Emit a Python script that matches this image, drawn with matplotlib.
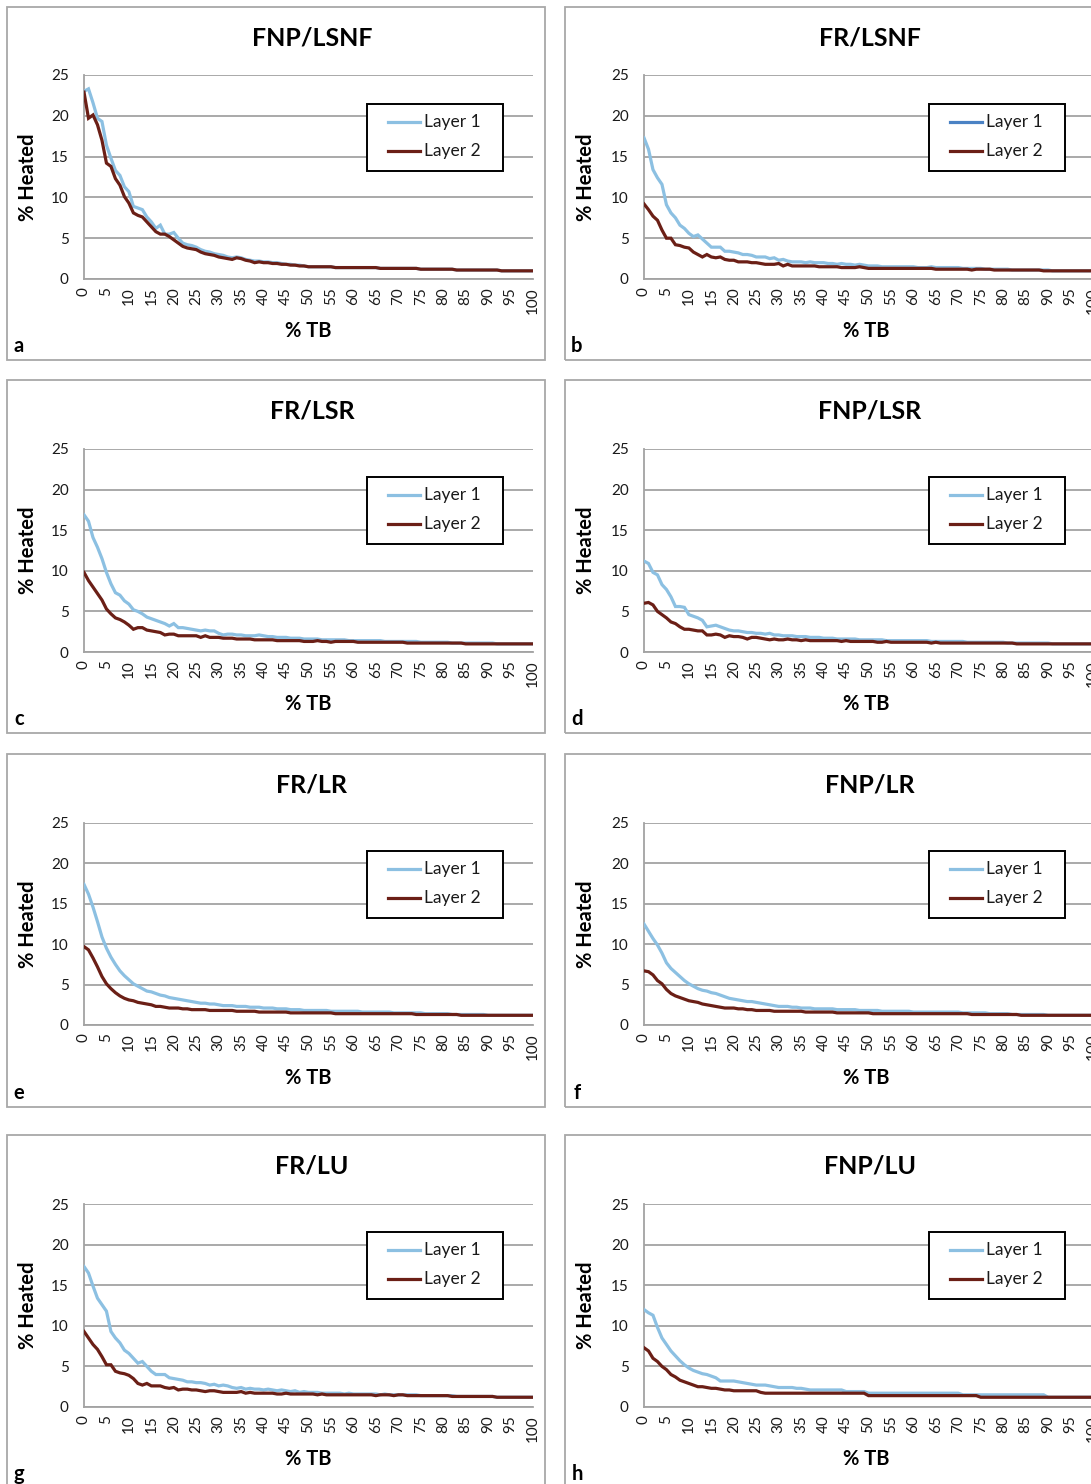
import matplotlib
matplotlib.use("Agg")
import matplotlib.pyplot as plt
from matplotlib.patches import Rectangle
from matplotlib.lines import Line2D

plt.rcParams["font.family"] = ["Lato", "DejaVu Sans"]

# ---------------------------------------------------------------- data
tb = list(range(0, 101))
x_ticks = list(range(0, 101, 5))
y_ticks = [0, 5, 10, 15, 20, 25]
titles = ["FNP/LSNF", "FR/LSNF", "FR/LSR", "FNP/LSR", "FR/LR", "FNP/LR", "FR/LU", "FNP/LU"]
letters = ["a", "b", "c", "d", "e", "f", "g", "h"]
series_names = ["Layer 1", "Layer 2"]

a_layer1 = [23.0, 23.3, 21.6, 19.7, 19.3, 16.4, 14.8, 13.3, 12.7, 11.3,
            10.7, 8.9, 8.7, 8.5, 7.6, 7.0, 6.2, 6.6, 5.5, 5.5,
            5.7, 5.0, 4.4, 4.2, 4.1, 3.9, 3.6, 3.4, 3.3, 3.1,
            3.0, 2.9, 2.7, 2.6, 2.7, 2.6, 2.4, 2.3, 2.2, 2.2,
            2.1, 2.1, 2.0, 2.0, 1.9, 1.8, 1.8, 1.7, 1.7, 1.6,
            1.5, 1.5, 1.5, 1.5, 1.5, 1.5, 1.4, 1.4, 1.4, 1.4,
            1.4, 1.4, 1.4, 1.4, 1.4, 1.4, 1.3, 1.3, 1.3, 1.3,
            1.3, 1.3, 1.3, 1.3, 1.3, 1.2, 1.2, 1.2, 1.2, 1.2,
            1.2, 1.2, 1.2, 1.1, 1.1, 1.1, 1.1, 1.1, 1.1, 1.1,
            1.1, 1.1, 1.1, 1.0, 1.0, 1.0, 1.0, 1.0, 1.0, 1.0,
            1.0]
a_layer2 = [22.9, 19.7, 20.1, 18.9, 17.0, 14.2, 13.8, 12.3, 11.5, 10.1,
            9.3, 8.1, 7.8, 7.6, 7.0, 6.4, 5.8, 5.5, 5.5, 5.2,
            4.8, 4.4, 4.0, 3.8, 3.7, 3.6, 3.3, 3.1, 3.0, 2.9,
            2.7, 2.6, 2.5, 2.4, 2.6, 2.5, 2.3, 2.2, 2.0, 2.1,
            2.0, 2.0, 1.9, 1.9, 1.8, 1.8, 1.7, 1.7, 1.6, 1.6,
            1.5, 1.5, 1.5, 1.5, 1.5, 1.5, 1.4, 1.4, 1.4, 1.4,
            1.4, 1.4, 1.4, 1.4, 1.4, 1.4, 1.3, 1.3, 1.3, 1.3,
            1.3, 1.3, 1.3, 1.3, 1.3, 1.2, 1.2, 1.2, 1.2, 1.2,
            1.2, 1.2, 1.2, 1.1, 1.1, 1.1, 1.1, 1.1, 1.1, 1.1,
            1.1, 1.1, 1.1, 1.0, 1.0, 1.0, 1.0, 1.0, 1.0, 1.0,
            1.0]

b_layer1 = [17.3, 15.9, 13.4, 12.4, 11.6, 9.1, 8.1, 7.5, 6.6, 6.2,
            5.6, 5.2, 5.4, 4.9, 4.4, 3.9, 3.9, 3.9, 3.4, 3.4,
            3.3, 3.2, 3.0, 3.0, 2.9, 2.7, 2.7, 2.7, 2.5, 2.6,
            2.3, 2.4, 2.2, 2.1, 2.1, 2.1, 2.0, 2.1, 2.0, 2.0,
            2.0, 1.9, 1.9, 1.8, 1.9, 1.8, 1.8, 1.7, 1.8, 1.7,
            1.6, 1.6, 1.6, 1.5, 1.5, 1.5, 1.5, 1.5, 1.5, 1.5,
            1.5, 1.4, 1.4, 1.4, 1.5, 1.4, 1.4, 1.4, 1.4, 1.4,
            1.4, 1.3, 1.3, 1.3, 1.3, 1.3, 1.2, 1.2, 1.2, 1.2,
            1.2, 1.2, 1.1, 1.1, 1.1, 1.1, 1.1, 1.1, 1.1, 1.1,
            1.1, 1.0, 1.0, 1.0, 1.0, 1.0, 1.0, 1.0, 1.0, 1.0,
            1.0]
b_layer2 = [9.2, 8.5, 7.7, 7.2, 6.0, 5.0, 5.0, 4.2, 4.1, 3.9,
            3.8, 3.3, 3.0, 2.7, 3.0, 2.7, 2.6, 2.7, 2.4, 2.3,
            2.3, 2.1, 2.1, 2.1, 2.0, 2.0, 1.9, 1.8, 1.8, 1.8,
            1.9, 1.6, 1.8, 1.6, 1.6, 1.6, 1.6, 1.6, 1.6, 1.5,
            1.5, 1.5, 1.5, 1.5, 1.4, 1.4, 1.4, 1.4, 1.5, 1.4,
            1.3, 1.3, 1.3, 1.3, 1.3, 1.3, 1.3, 1.3, 1.3, 1.3,
            1.3, 1.3, 1.3, 1.3, 1.3, 1.2, 1.2, 1.2, 1.2, 1.2,
            1.2, 1.2, 1.2, 1.1, 1.2, 1.2, 1.2, 1.2, 1.1, 1.1,
            1.1, 1.1, 1.1, 1.1, 1.1, 1.1, 1.1, 1.1, 1.1, 1.0,
            1.0, 1.0, 1.0, 1.0, 1.0, 1.0, 1.0, 1.0, 1.0, 1.0,
            1.0]

c_layer1 = [16.9, 16.1, 14.1, 12.9, 11.5, 9.8, 8.4, 7.3, 7.0, 6.3,
            5.9, 5.2, 5.0, 4.7, 4.3, 4.1, 3.9, 3.7, 3.5, 3.2,
            3.5, 3.0, 3.0, 2.9, 2.8, 2.7, 2.6, 2.7, 2.6, 2.6,
            2.3, 2.1, 2.2, 2.2, 2.1, 2.1, 2.0, 2.0, 2.0, 2.1,
            2.0, 1.9, 1.9, 1.8, 1.8, 1.8, 1.7, 1.7, 1.7, 1.6,
            1.6, 1.6, 1.6, 1.5, 1.5, 1.5, 1.5, 1.5, 1.5, 1.4,
            1.4, 1.4, 1.4, 1.4, 1.4, 1.4, 1.4, 1.3, 1.3, 1.3,
            1.3, 1.3, 1.3, 1.3, 1.3, 1.2, 1.2, 1.2, 1.2, 1.2,
            1.2, 1.2, 1.1, 1.1, 1.1, 1.1, 1.1, 1.1, 1.1, 1.1,
            1.1, 1.1, 1.0, 1.0, 1.0, 1.0, 1.0, 1.0, 1.0, 1.0,
            1.0]
c_layer2 = [9.8, 8.8, 8.0, 7.2, 6.4, 5.3, 4.7, 4.2, 4.0, 3.7,
            3.3, 2.8, 3.0, 3.0, 2.7, 2.6, 2.5, 2.4, 2.1, 2.2,
            2.2, 2.0, 2.0, 2.0, 2.0, 2.0, 1.8, 2.0, 1.8, 1.8,
            1.8, 1.7, 1.7, 1.7, 1.6, 1.6, 1.6, 1.6, 1.5, 1.5,
            1.5, 1.5, 1.5, 1.4, 1.4, 1.4, 1.4, 1.4, 1.4, 1.3,
            1.3, 1.3, 1.4, 1.3, 1.3, 1.2, 1.3, 1.3, 1.3, 1.3,
            1.3, 1.2, 1.2, 1.2, 1.2, 1.2, 1.2, 1.2, 1.2, 1.2,
            1.2, 1.2, 1.1, 1.1, 1.1, 1.1, 1.1, 1.1, 1.1, 1.1,
            1.1, 1.1, 1.1, 1.1, 1.1, 1.0, 1.0, 1.0, 1.0, 1.0,
            1.0, 1.0, 1.0, 1.0, 1.0, 1.0, 1.0, 1.0, 1.0, 1.0,
            1.0]

d_layer1 = [11.2, 10.9, 9.8, 9.5, 8.3, 7.7, 6.8, 5.6, 5.6, 5.5,
            4.6, 4.4, 4.2, 3.9, 3.1, 3.2, 3.3, 3.1, 2.9, 2.7,
            2.6, 2.6, 2.5, 2.4, 2.4, 2.3, 2.3, 2.2, 2.3, 2.1,
            2.1, 2.0, 2.0, 2.0, 1.9, 1.9, 1.9, 1.8, 1.8, 1.8,
            1.7, 1.7, 1.7, 1.6, 1.6, 1.6, 1.6, 1.6, 1.5, 1.5,
            1.5, 1.5, 1.5, 1.5, 1.4, 1.4, 1.4, 1.4, 1.4, 1.4,
            1.4, 1.4, 1.4, 1.4, 1.3, 1.3, 1.3, 1.3, 1.3, 1.3,
            1.3, 1.3, 1.2, 1.2, 1.2, 1.2, 1.2, 1.2, 1.2, 1.2,
            1.2, 1.1, 1.1, 1.1, 1.1, 1.1, 1.1, 1.1, 1.1, 1.1,
            1.1, 1.0, 1.0, 1.0, 1.0, 1.0, 1.0, 1.0, 1.0, 1.0,
            1.0]
d_layer2 = [6.0, 6.1, 5.8, 5.0, 4.6, 4.2, 3.7, 3.5, 3.1, 2.8,
            2.8, 2.7, 2.6, 2.6, 2.1, 2.1, 2.2, 2.1, 1.8, 2.0,
            1.9, 1.9, 1.8, 1.6, 1.8, 1.8, 1.7, 1.6, 1.5, 1.6,
            1.5, 1.5, 1.6, 1.5, 1.5, 1.4, 1.5, 1.4, 1.4, 1.4,
            1.4, 1.4, 1.4, 1.4, 1.3, 1.4, 1.3, 1.3, 1.3, 1.3,
            1.3, 1.3, 1.2, 1.2, 1.3, 1.2, 1.2, 1.2, 1.2, 1.2,
            1.2, 1.2, 1.2, 1.2, 1.1, 1.2, 1.1, 1.1, 1.1, 1.1,
            1.1, 1.1, 1.1, 1.1, 1.1, 1.1, 1.1, 1.1, 1.1, 1.1,
            1.1, 1.1, 1.1, 1.0, 1.0, 1.0, 1.0, 1.0, 1.0, 1.0,
            1.0, 1.0, 1.0, 1.0, 1.0, 1.0, 1.0, 1.0, 1.0, 1.0,
            1.0]

e_layer1 = [17.4, 16.2, 14.6, 12.8, 10.9, 9.5, 8.4, 7.5, 6.7, 6.1,
            5.6, 5.1, 4.8, 4.5, 4.2, 4.1, 3.9, 3.7, 3.6, 3.4,
            3.3, 3.2, 3.1, 3.0, 2.9, 2.8, 2.7, 2.7, 2.6, 2.6,
            2.5, 2.4, 2.4, 2.4, 2.3, 2.3, 2.3, 2.2, 2.2, 2.2,
            2.1, 2.1, 2.1, 2.0, 2.0, 2.0, 1.9, 1.9, 1.9, 1.8,
            1.8, 1.8, 1.8, 1.8, 1.8, 1.7, 1.7, 1.7, 1.7, 1.7,
            1.7, 1.7, 1.6, 1.6, 1.6, 1.6, 1.6, 1.6, 1.6, 1.5,
            1.5, 1.5, 1.5, 1.5, 1.5, 1.5, 1.4, 1.4, 1.4, 1.4,
            1.4, 1.4, 1.3, 1.3, 1.3, 1.3, 1.3, 1.3, 1.3, 1.3,
            1.2, 1.2, 1.2, 1.2, 1.2, 1.2, 1.2, 1.2, 1.2, 1.2,
            1.2]
e_layer2 = [9.7, 9.3, 8.3, 7.2, 6.0, 5.1, 4.5, 4.0, 3.6, 3.3,
            3.1, 3.0, 2.8, 2.7, 2.6, 2.5, 2.3, 2.3, 2.2, 2.1,
            2.1, 2.1, 2.0, 2.0, 1.9, 1.9, 1.9, 1.9, 1.8, 1.8,
            1.8, 1.8, 1.8, 1.8, 1.7, 1.7, 1.7, 1.7, 1.7, 1.6,
            1.6, 1.6, 1.6, 1.6, 1.6, 1.6, 1.5, 1.5, 1.5, 1.5,
            1.5, 1.5, 1.5, 1.5, 1.5, 1.5, 1.4, 1.4, 1.4, 1.4,
            1.4, 1.4, 1.4, 1.4, 1.4, 1.4, 1.4, 1.4, 1.4, 1.4,
            1.4, 1.4, 1.4, 1.4, 1.3, 1.3, 1.3, 1.3, 1.3, 1.3,
            1.3, 1.3, 1.3, 1.3, 1.2, 1.2, 1.2, 1.2, 1.2, 1.2,
            1.2, 1.2, 1.2, 1.2, 1.2, 1.2, 1.2, 1.2, 1.2, 1.2,
            1.2]

f_layer1 = [12.5, 11.6, 10.7, 9.9, 8.9, 7.7, 7.0, 6.5, 6.0, 5.5,
            5.1, 4.8, 4.5, 4.3, 4.2, 4.0, 3.9, 3.7, 3.5, 3.3,
            3.2, 3.1, 3.0, 2.9, 2.9, 2.8, 2.7, 2.6, 2.5, 2.4,
            2.3, 2.3, 2.3, 2.2, 2.2, 2.1, 2.1, 2.1, 2.0, 2.0,
            2.0, 2.0, 2.0, 1.9, 1.9, 1.9, 1.9, 1.9, 1.8, 1.8,
            1.8, 1.8, 1.8, 1.7, 1.7, 1.7, 1.7, 1.7, 1.7, 1.7,
            1.6, 1.6, 1.6, 1.6, 1.6, 1.6, 1.6, 1.6, 1.6, 1.6,
            1.6, 1.5, 1.5, 1.5, 1.5, 1.5, 1.5, 1.4, 1.4, 1.4,
            1.4, 1.4, 1.3, 1.3, 1.3, 1.3, 1.3, 1.3, 1.3, 1.3,
            1.2, 1.2, 1.2, 1.2, 1.2, 1.2, 1.2, 1.2, 1.2, 1.2,
            1.2]
f_layer2 = [6.7, 6.6, 6.2, 5.5, 5.1, 4.4, 3.9, 3.6, 3.4, 3.2,
            3.0, 2.9, 2.8, 2.6, 2.5, 2.4, 2.3, 2.2, 2.1, 2.1,
            2.1, 2.0, 2.0, 1.9, 1.9, 1.8, 1.8, 1.8, 1.8, 1.7,
            1.7, 1.7, 1.7, 1.7, 1.7, 1.7, 1.6, 1.6, 1.6, 1.6,
            1.6, 1.6, 1.6, 1.5, 1.5, 1.5, 1.5, 1.5, 1.5, 1.5,
            1.5, 1.4, 1.4, 1.4, 1.4, 1.4, 1.4, 1.4, 1.4, 1.4,
            1.4, 1.4, 1.4, 1.4, 1.4, 1.4, 1.4, 1.4, 1.4, 1.4,
            1.4, 1.4, 1.4, 1.3, 1.3, 1.3, 1.3, 1.3, 1.3, 1.3,
            1.3, 1.3, 1.3, 1.3, 1.2, 1.2, 1.2, 1.2, 1.2, 1.2,
            1.2, 1.2, 1.2, 1.2, 1.2, 1.2, 1.2, 1.2, 1.2, 1.2,
            1.2]

g_layer1 = [17.3, 16.5, 14.9, 13.4, 12.6, 11.8, 9.3, 8.5, 7.9, 7.0,
            6.6, 6.0, 5.4, 5.6, 5.0, 4.4, 4.0, 4.0, 4.0, 3.6,
            3.5, 3.4, 3.3, 3.1, 3.1, 3.0, 3.0, 2.9, 2.7, 2.8,
            2.6, 2.7, 2.6, 2.4, 2.3, 2.4, 2.2, 2.3, 2.2, 2.2,
            2.1, 2.2, 2.1, 2.0, 2.1, 2.0, 1.9, 2.0, 1.8, 1.9,
            1.8, 1.8, 1.8, 1.7, 1.7, 1.7, 1.7, 1.7, 1.6, 1.7,
            1.6, 1.6, 1.6, 1.6, 1.6, 1.6, 1.5, 1.6, 1.5, 1.5,
            1.5, 1.5, 1.5, 1.5, 1.5, 1.4, 1.4, 1.4, 1.4, 1.4,
            1.4, 1.4, 1.4, 1.3, 1.3, 1.3, 1.3, 1.3, 1.3, 1.3,
            1.3, 1.3, 1.2, 1.2, 1.2, 1.2, 1.2, 1.2, 1.2, 1.2,
            1.2]
g_layer2 = [9.3, 8.5, 7.7, 7.1, 6.2, 5.2, 5.2, 4.4, 4.2, 4.1,
            3.9, 3.5, 2.9, 2.7, 2.9, 2.6, 2.6, 2.6, 2.4, 2.3,
            2.4, 2.1, 2.2, 2.2, 2.1, 2.1, 2.0, 1.9, 2.0, 2.0,
            1.9, 1.8, 1.8, 1.8, 1.8, 1.9, 1.7, 1.8, 1.7, 1.7,
            1.7, 1.7, 1.7, 1.6, 1.6, 1.7, 1.6, 1.6, 1.6, 1.6,
            1.6, 1.6, 1.5, 1.6, 1.5, 1.5, 1.5, 1.5, 1.5, 1.5,
            1.5, 1.5, 1.5, 1.5, 1.5, 1.4, 1.5, 1.5, 1.5, 1.4,
            1.5, 1.5, 1.4, 1.4, 1.4, 1.4, 1.4, 1.4, 1.4, 1.4,
            1.4, 1.4, 1.3, 1.3, 1.3, 1.3, 1.3, 1.3, 1.3, 1.3,
            1.3, 1.3, 1.2, 1.2, 1.2, 1.2, 1.2, 1.2, 1.2, 1.2,
            1.2]

h_layer1 = [12.0, 11.6, 11.3, 9.8, 8.5, 7.7, 6.9, 6.3, 5.7, 5.2,
            4.8, 4.5, 4.3, 4.1, 4.0, 3.8, 3.6, 3.2, 3.2, 3.2,
            3.2, 3.1, 3.0, 2.9, 2.8, 2.7, 2.7, 2.7, 2.6, 2.5,
            2.4, 2.4, 2.4, 2.4, 2.3, 2.3, 2.2, 2.1, 2.1, 2.1,
            2.1, 2.1, 2.1, 2.1, 2.1, 1.9, 1.9, 1.9, 1.9, 1.9,
            1.7, 1.7, 1.7, 1.7, 1.7, 1.7, 1.7, 1.7, 1.7, 1.7,
            1.7, 1.7, 1.7, 1.7, 1.7, 1.7, 1.7, 1.7, 1.7, 1.7,
            1.7, 1.5, 1.5, 1.5, 1.5, 1.5, 1.5, 1.5, 1.5, 1.5,
            1.5, 1.5, 1.5, 1.5, 1.5, 1.5, 1.5, 1.5, 1.5, 1.5,
            1.2, 1.2, 1.2, 1.2, 1.2, 1.2, 1.2, 1.2, 1.2, 1.2,
            1.2]
h_layer2 = [7.3, 6.9, 6.0, 5.6, 5.0, 4.6, 4.0, 3.7, 3.3, 3.1,
            2.9, 2.7, 2.5, 2.5, 2.4, 2.3, 2.3, 2.2, 2.1, 2.1,
            2.0, 2.0, 2.0, 2.0, 2.0, 2.0, 1.8, 1.7, 1.7, 1.7,
            1.7, 1.7, 1.7, 1.7, 1.7, 1.7, 1.7, 1.7, 1.7, 1.7,
            1.7, 1.7, 1.7, 1.7, 1.7, 1.7, 1.7, 1.7, 1.7, 1.7,
            1.4, 1.4, 1.4, 1.4, 1.4, 1.4, 1.4, 1.4, 1.4, 1.4,
            1.4, 1.4, 1.4, 1.4, 1.4, 1.4, 1.4, 1.4, 1.4, 1.4,
            1.4, 1.4, 1.4, 1.4, 1.4, 1.2, 1.2, 1.2, 1.2, 1.2,
            1.2, 1.2, 1.2, 1.2, 1.2, 1.2, 1.2, 1.2, 1.2, 1.2,
            1.2, 1.2, 1.2, 1.2, 1.2, 1.2, 1.2, 1.2, 1.2, 1.2,
            1.2]

panel_series = [
    (a_layer1, a_layer2), (b_layer1, b_layer2),
    (c_layer1, c_layer2), (d_layer1, d_layer2),
    (e_layer1, e_layer2), (f_layer1, f_layer2),
    (g_layer1, g_layer2), (h_layer1, h_layer2),
]

# ---------------------------------------------------------------- style
LAYER1 = "#8CC0E2"
LAYER2 = "#6B1F16"
LEGEND_BLUE_B = "#4A82C4"
GRID = "#A3A3A3"
FRAME = "#A8A8A8"
TEXT = "#1A1A1A"

W, H = 1091, 1484
fig = plt.figure(figsize=(W / 100, H / 100), dpi=100)
fig.patch.set_facecolor("white")

box_x = [7, 565]
box_y = [7, 380, 754, 1135]
box_w, box_h = 538, 353
plot_x = [84, 644]
plot_w = 449
plot_top = [75, 449, 823, 1204]
plot_h = [204, 203, 202, 203]
legend_dx = [360, 364]


def fx(px):
    return px / W


def fy(py):
    return 1 - py / H


for i, title in enumerate(titles):
    r, c = divmod(i, 2)
    bx, by = box_x[c], box_y[r]

    # panel frame
    fig.add_artist(Rectangle((fx(bx), fy(by + box_h)), box_w / W, box_h / H,
                             transform=fig.transFigure, fill=False,
                             edgecolor=FRAME, linewidth=1.3, zorder=0))

    ax = fig.add_axes([fx(plot_x[c]), fy(plot_top[r] + plot_h[r]),
                       plot_w / W, plot_h[r] / H])
    l1, l2 = panel_series[i]
    ax.plot(tb, l1, color=LAYER1, linewidth=2.3, solid_joinstyle="miter",
            label=series_names[0], zorder=3)
    ax.plot(tb, l2, color=LAYER2, linewidth=2.3, solid_joinstyle="miter",
            label=series_names[1], zorder=4)

    ax.set_xlim(0, 100)
    ax.set_ylim(0, 25)
    ax.set_xticks(x_ticks)
    ax.set_xticklabels([str(v) for v in x_ticks], rotation=90)
    ax.set_yticks(y_ticks)
    ax.set_yticklabels([str(v) for v in y_ticks])
    ax.tick_params(axis="both", length=0, labelsize=11, colors=TEXT)
    ax.tick_params(axis="y", pad=11)
    ax.tick_params(axis="x", pad=6)
    ax.yaxis.grid(True, color=GRID, linewidth=1.3)
    ax.set_axisbelow(True)
    for s in ("top", "right"):
        ax.spines[s].set_visible(False)
    for s in ("left", "bottom"):
        ax.spines[s].set_color(GRID)
        ax.spines[s].set_linewidth(1.3)

    # titles and axis labels
    fig.text(fx(bx + 305), fy(by + 31), title, fontsize=18, fontweight="bold",
             ha="center", va="center", color="black")
    fig.text(fx(bx + 21), fy(plot_top[r] + plot_h[r] / 2), "% Heated",
             fontsize=14.5, fontweight="bold", rotation=90,
             ha="center", va="center", color="black")
    fig.text(fx(bx + 301), fy(by + 324), "% TB", fontsize=14.5, fontweight="bold",
             ha="center", va="center", color="black")
    fig.text(fx(bx + 12), fy(by + 339), letters[i], fontsize=14.5,
             fontweight="bold", ha="center", va="center", color="black")

    # legend box
    lx, ly = bx + legend_dx[c], by + 97
    fig.add_artist(Rectangle((fx(lx), fy(ly + 67)), 136 / W, 67 / H,
                             transform=fig.transFigure, facecolor="white",
                             edgecolor="black", linewidth=1.4, zorder=5))
    handle_colors = [LEGEND_BLUE_B if letters[i] == "b" else LAYER1, LAYER2]
    for k, name in enumerate(series_names):
        yy = ly + 18 + k * 29
        fig.add_artist(Line2D([fx(lx + 21), fx(lx + 53)], [fy(yy), fy(yy)],
                              transform=fig.transFigure,
                              color=handle_colors[k], linewidth=2.3, zorder=6))
        fig.text(fx(lx + 57), fy(yy), name, fontsize=12.5, ha="left",
                 va="center", color=TEXT, zorder=7)

fig.savefig("out.png", dpi=100, facecolor="white")
